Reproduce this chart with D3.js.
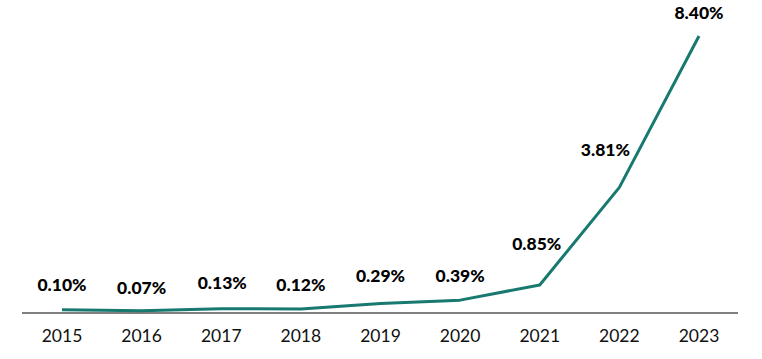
<!DOCTYPE html>
<html>
<head>
<meta charset="utf-8">
<script src="https://cdn.jsdelivr.net/npm/d3@7"></script>
<style>
  html, body { margin: 0; padding: 0; background: #fff; }
  svg { display: block; }
</style>
</head>
<body>
<svg id="chart" width="762" height="359"></svg>
<script>
const years = ["2015", "2016", "2017", "2018", "2019", "2020", "2021", "2022", "2023"];
const values = [0.10, 0.07, 0.13, 0.12, 0.29, 0.39, 0.85, 3.81, 8.40];
const valueLabels = ["0.10%", "0.07%", "0.13%", "0.12%", "0.29%", "0.39%", "0.85%", "3.81%", "8.40%"];

// label placement offsets (layout only)
const labelDx = [0, 0, 1, 0, 0, 0, -3, -14, 0];
const labelDy = [-19, -17, -20, -18, -21, -18, -35, -31, -17];

const svg = d3.select("#chart");
const x = d3.scalePoint().domain(years).range([62, 699]);
const y = d3.scaleLinear().domain([0, 8.40]).range([313, 36]);

// x axis line
svg.append("line")
  .attr("x1", 22).attr("x2", 738)
  .attr("y1", y(0)).attr("y2", y(0))
  .attr("stroke", "#000").attr("stroke-width", 1);

// tick labels
svg.append("g").selectAll("text").data(years).join("text")
  .attr("x", d => x(d))
  .attr("y", 342)
  .attr("text-anchor", "middle")
  .attr("font-family", "Lato, sans-serif")
  .attr("font-size", 17.5)
  .attr("fill", "#111")
  .text(d => d);

// line
const line = d3.line().x((d, i) => x(years[i])).y(d => y(d));
svg.append("path")
  .datum(values)
  .attr("d", line)
  .attr("fill", "none")
  .attr("stroke", "#17796f")
  .attr("stroke-width", 3)
  .attr("stroke-linejoin", "round");

// value labels
svg.append("g").selectAll("text").data(values).join("text")
  .attr("x", (d, i) => x(years[i]) + labelDx[i])
  .attr("y", (d, i) => y(d) + labelDy[i])
  .attr("text-anchor", "middle")
  .attr("font-family", "Lato, sans-serif")
  .attr("font-weight", 900)
  .attr("font-size", 17.5)
  .attr("fill", "#000")
  .text((d, i) => valueLabels[i]);
</script>
</body>
</html>
